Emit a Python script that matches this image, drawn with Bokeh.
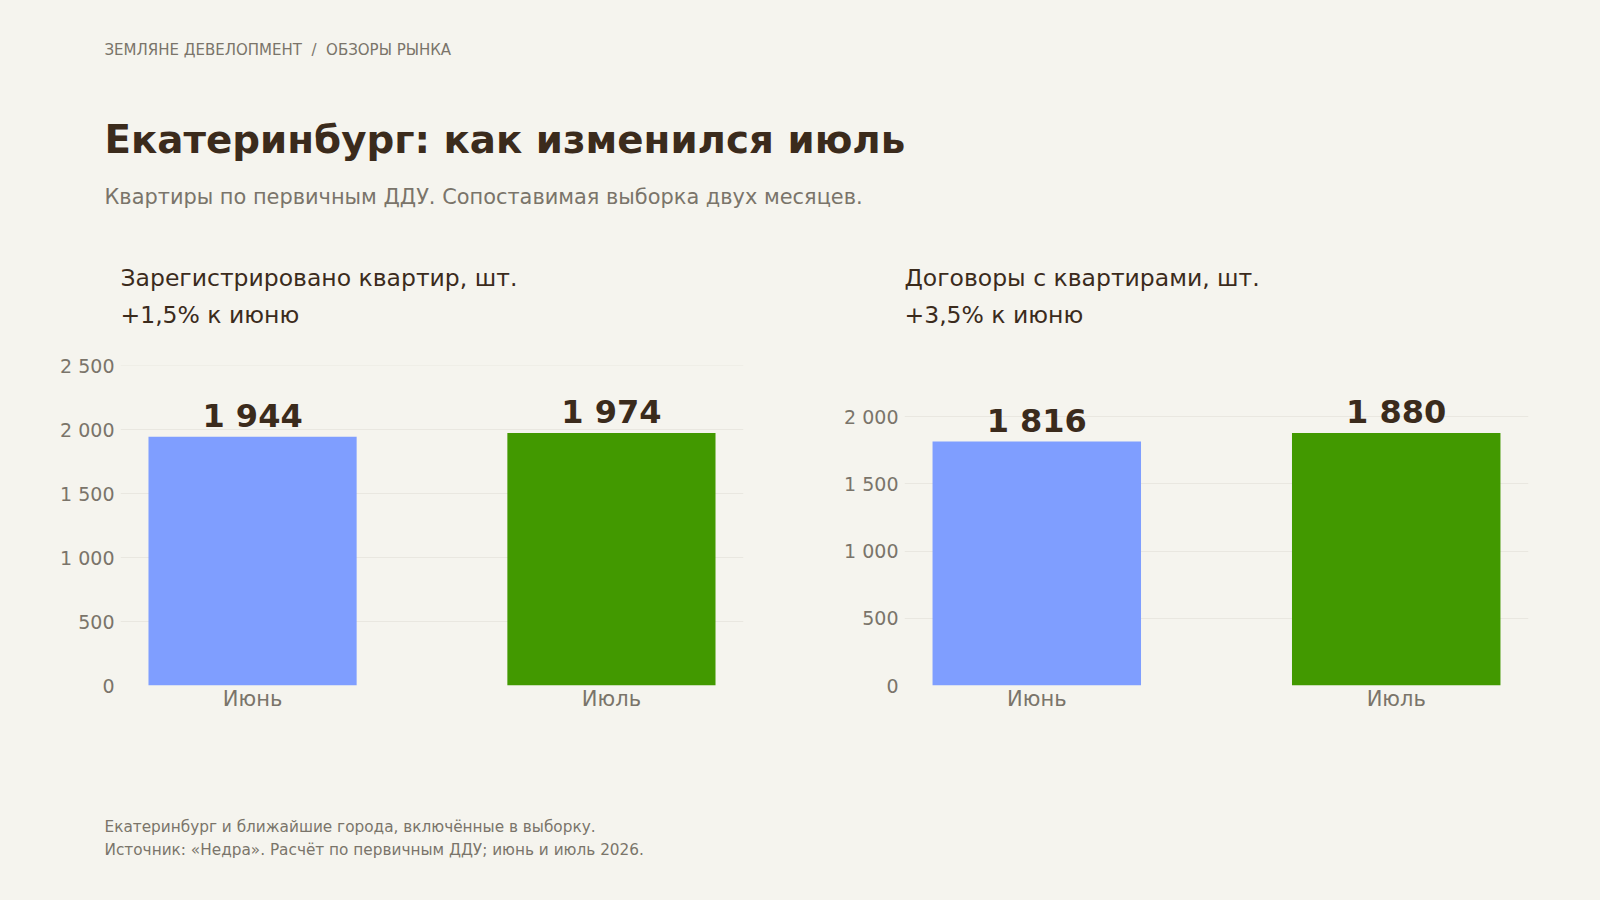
import re
from bokeh.plotting import figure
from bokeh.models import Range1d, Label, FixedTicker
from bokeh.layouts import column, row
from bokeh.embed import file_html
from bokeh.resources import INLINE
from bokeh.core.properties import value

# ---- data ----
months = ["Июнь", "Июль"]
registered = [1944, 1974]
contracts = [1816, 1880]
bar_colors = ["#7f9eff", "#429900"]
left_ticks = [0, 500, 1000, 1500, 2000, 2500]
right_ticks = [0, 500, 1000, 1500, 2000]
left_title = "Зарегистрировано квартир, шт."
left_change = "+1,5% к июню"
right_title = "Договоры с квартирами, шт."
right_change = "+3,5% к июню"
breadcrumb = "ЗЕМЛЯНЕ ДЕВЕЛОПМЕНТ\u00a0\u00a0/\u00a0\u00a0ОБЗОРЫ РЫНКА"
title = "Екатеринбург: как изменился июль"
subtitle = "Квартиры по первичным ДДУ. Сопоставимая выборка двух месяцев."
footer1 = "Екатеринбург и ближайшие города, включённые в выборку."
footer2 = "Источник: «Недра». Расчёт по первичным ДДУ; июнь и июль 2026."

BG = "#f5f4ee"
DARK = "#3b2b1c"
GRAY = "#7a746a"
GRID = "#e9e7e0"
FONT = "DejaVu Sans"
W = 1600


def fmt(v):
    return f"{v:,}".replace(",", " ")


def blank(width, height):
    p = figure(width=width, height=height, output_backend="svg", toolbar_location=None,
               x_range=Range1d(0, width), y_range=Range1d(height, 0),
               min_border=0, min_border_left=0, min_border_right=0,
               min_border_top=0, min_border_bottom=0)
    p.axis.visible = False
    p.grid.visible = False
    p.outline_line_color = None
    p.background_fill_color = BG
    p.border_fill_color = BG
    return p


def lab(p, x, y, text, size, color, bold=False):
    p.add_layout(Label(x=x, y=y, text=text, text_font=FONT, text_font_size=f"{size}px",
                       text_color=color, text_font_style="bold" if bold else "normal",
                       text_baseline="middle", text_align="left"))


# ---- header ----
TOP_H = 348
top = blank(W, TOP_H)
lab(top, 104, 49, breadcrumb, 15, GRAY)
lab(top, 104, 139, title, 38.8, DARK, bold=True)
lab(top, 104, 196, subtitle, 20.9, GRAY)
lab(top, 120, 277, left_title, 23.5, DARK)
lab(top, 120, 314, left_change, 23.5, DARK)
lab(top, 904, 277, right_title, 23.5, DARK)
lab(top, 904, 314, right_change, 23.5, DARK)

CH_H = 377


# ---- charts ----
def chart(vals, ticks, border_left, border_right):
    xs = [i + 0.5 for i in range(len(months))]
    ymax = max(vals) * 1.267
    p = figure(width=800, height=CH_H, output_backend="svg", toolbar_location=None,
               x_range=Range1d(0.132, len(months) - 0.132), y_range=Range1d(0, ymax),
               min_border_left=border_left, min_border_right=border_right,
               min_border_top=17, min_border_bottom=40)
    p.background_fill_color = BG
    p.border_fill_color = BG
    p.outline_line_color = None
    p.vbar(x=xs, top=vals, width=0.58, bottom=0, color=bar_colors, line_color=None)
    p.text(x=xs, y=vals, text=[fmt(v) for v in vals], text_font=value(FONT),
           text_font_size="32px", text_font_style="bold", text_color=DARK,
           text_align="center", text_baseline="alphabetic", y_offset=-21)
    p.xgrid.visible = False
    p.ygrid.grid_line_color = GRID
    p.ygrid.grid_line_width = 1
    p.yaxis.ticker = FixedTicker(ticks=ticks)
    p.yaxis.major_label_overrides = {t: fmt(t) for t in ticks}
    p.xaxis.ticker = FixedTicker(ticks=xs)
    p.xaxis.major_label_overrides = {x: m for x, m in zip(xs, months)}
    for ax in (p.xaxis, p.yaxis):
        ax.axis_line_color = None
        ax.major_tick_line_color = None
        ax.minor_tick_line_color = None
        ax.major_tick_out = 0
        ax.major_tick_in = 0
        ax.major_label_text_font = FONT
        ax.major_label_text_color = GRAY
    p.yaxis.major_label_text_font_size = "19px"
    p.yaxis.major_label_standoff = 6
    p.xaxis.major_label_text_font_size = "21px"
    p.xaxis.major_label_standoff = 1
    return p


left = chart(registered, left_ticks, 120, 57)
right = chart(contracts, right_ticks, 104, 72)

# ---- footer ----
FOOT_H = 900 - TOP_H - CH_H
foot = blank(W, FOOT_H)
lab(foot, 104, 826 - TOP_H - CH_H, footer1, 15.3, GRAY)
lab(foot, 104, 849 - TOP_H - CH_H, footer2, 15.3, GRAY)

layout = column(top, row(left, right), foot)
layout.styles = {"background-color": BG}
html = file_html(layout, INLINE)
html = re.sub(r"<body[^>]*>", f'<body style="margin:0;background:{BG};">', html, count=1)
open("out.html", "w").write(html)
